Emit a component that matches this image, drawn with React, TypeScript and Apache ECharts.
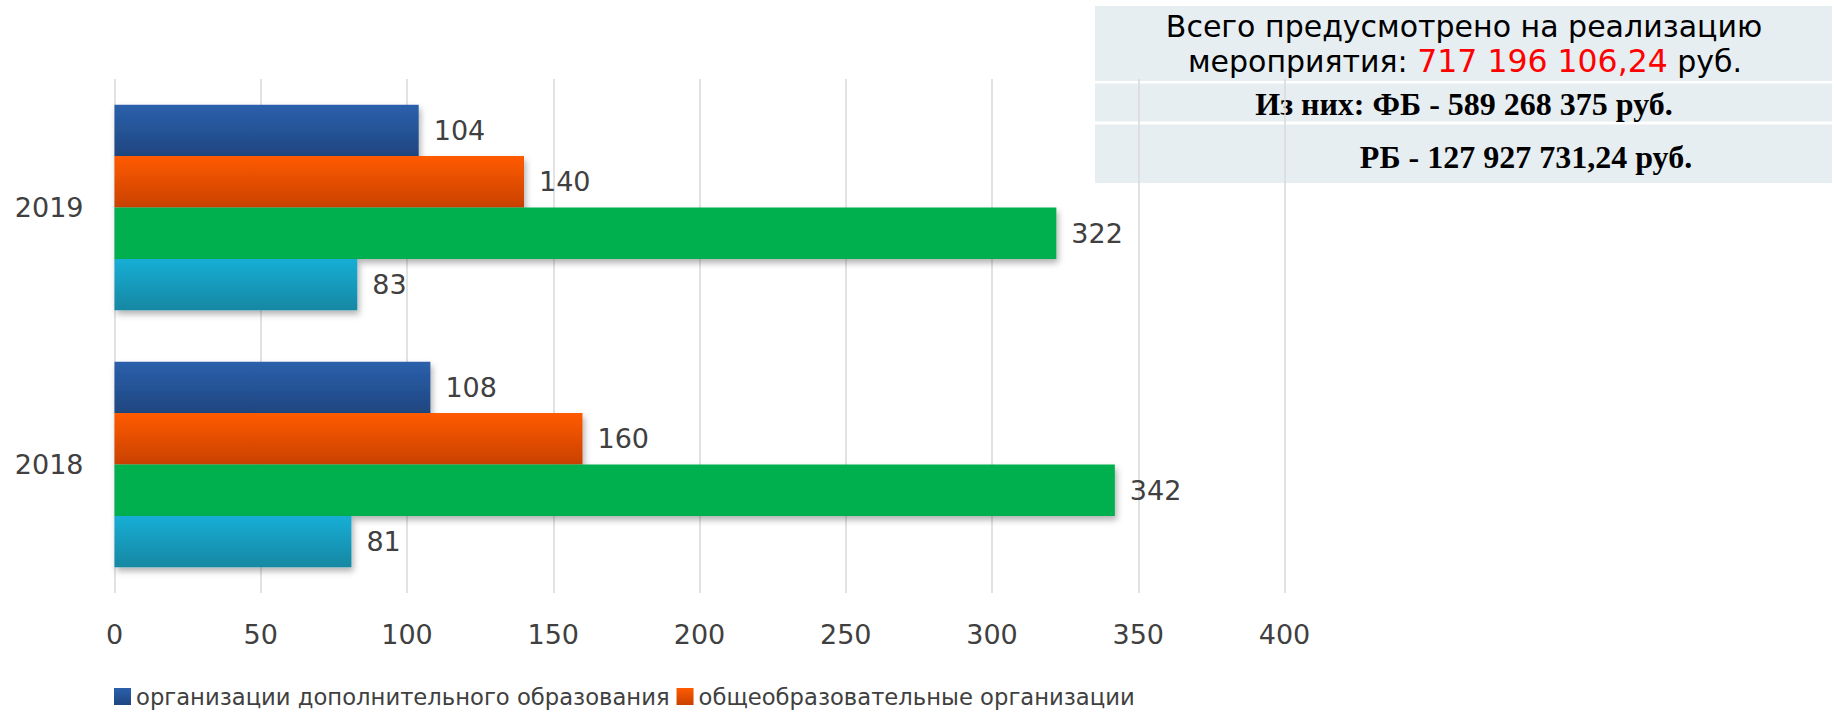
import React, { useEffect, useRef } from "react";
import * as echarts from "echarts";

const categories = ["2018", "2019"];
const seriesNames = [
  "организации дополнительного образования",
  "общеобразовательные организации",
  "профессиональные образовательные организации",
  "дошкольные образовательные организации",
];
const supplementary = [108, 104];
const general = [160, 140];
const professional = [342, 322];
const preschool = [81, 83];
const xTicks = { min: 0, max: 400, interval: 50 };

const totalLine1 = "Всего предусмотрено на реализацию";
const totalLine2 = "мероприятия: {r|717 196 106,24} руб.";
const fbLine = "Из них: ФБ - 589 268 375 руб.";
const rbLine = "РБ - 127 927 731,24 руб.";

const grad = (top: string, bottom: string) =>
  new echarts.graphic.LinearGradient(0, 0, 0, 1, [
    { offset: 0, color: top },
    { offset: 1, color: bottom },
  ]);

export default function App() {
  const ref = useRef<HTMLDivElement>(null);
  useEffect(() => {
    if (!ref.current) return;
    const chart = echarts.init(ref.current, null, { renderer: "svg" });
    const font = "DejaVu Sans";
    const label = {
      show: true,
      position: "right",
      distance: 15,
      fontSize: 27,
      fontFamily: font,
      color: "#404040",
    };
    const shadow = {
      shadowBlur: 6,
      shadowOffsetX: 2,
      shadowOffsetY: 4,
      shadowColor: "rgba(0,0,0,0.3)",
    };
    const colors = [
      grad("#2B60AC", "#1F4680"),
      grad("#FF5B00", "#C94100"),
      "#00B050",
      grad("#14AED6", "#1287A2"),
    ];
    const datas = [supplementary, general, professional, preschool];
    chart.setOption({
      animation: false,
      textStyle: { fontFamily: font },
      grid: { left: 114.5, right: 549.5, top: 79, bottom: 121, containLabel: false },
      legend: {
        data: [seriesNames[0], seriesNames[1]],
        left: 109,
        top: 680,
        icon: "rect",
        itemWidth: 17,
        itemHeight: 17,
        itemGap: 7,
        textStyle: { fontSize: 22.7, color: "#404040", fontFamily: font },
      },
      xAxis: {
        type: "value",
        min: xTicks.min,
        max: xTicks.max,
        interval: xTicks.interval,
        axisLine: { show: false },
        axisTick: { show: false },
        axisLabel: { fontSize: 27, color: "#404040", margin: 28, fontFamily: font },
        splitLine: { show: true, lineStyle: { color: "#D9D9D9", width: 1.5 } },
      },
      yAxis: {
        type: "category",
        data: categories,
        axisLine: { show: false },
        axisTick: { show: false },
        axisLabel: { fontSize: 27, color: "#404040", margin: 31, fontFamily: font },
        splitLine: { show: false },
      },
      series: datas.map((d, i) => ({
        type: "bar",
        name: seriesNames[i],
        data: d,
        barGap: "0%",
        barCategoryGap: "20%",
        itemStyle: { color: colors[i], ...shadow },
        label,
      })),
      graphic: [
        { type: "rect", z: -1, shape: { x: 1095, y: 6, width: 737, height: 75 }, style: { fill: "#E7EEF2" } },
        { type: "rect", z: -1, shape: { x: 1095, y: 83.5, width: 737, height: 38 }, style: { fill: "#E7EEF2" } },
        { type: "rect", z: -1, shape: { x: 1095, y: 124.5, width: 737, height: 58.5 }, style: { fill: "#E7EEF2" } },
        {
          type: "text",
          z: -1,
          x: 1464,
          y: 26,
          style: {
            text: totalLine1,
            fill: "#000",
            font: `30px "${font}"`,
            textAlign: "center",
            textVerticalAlign: "middle",
          },
        },
        {
          type: "text",
          z: -1,
          x: 1465,
          y: 61,
          style: {
            text: totalLine2,
            fill: "#000",
            fontSize: 30,
            fontFamily: font,
            textAlign: "center",
            textVerticalAlign: "middle",
            rich: { r: { fill: "#FF0000", fontSize: 31.5, fontFamily: font } },
          },
        },
        {
          type: "text",
          z: -1,
          x: 1464,
          y: 104,
          style: {
            text: fbLine,
            fill: "#000",
            font: 'bold 32px "Liberation Serif"',
            textAlign: "center",
            textVerticalAlign: "middle",
          },
        },
        {
          type: "text",
          z: -1,
          x: 1526,
          y: 157,
          style: {
            text: rbLine,
            fill: "#000",
            font: 'bold 32px "Liberation Serif"',
            textAlign: "center",
            textVerticalAlign: "middle",
          },
        },
      ],
    });
    return () => chart.dispose();
  }, []);
  return (
    <div
      ref={ref}
      style={{ position: "fixed", left: 0, top: 0, width: 1834, height: 714, background: "#fff" }}
    />
  );
}
